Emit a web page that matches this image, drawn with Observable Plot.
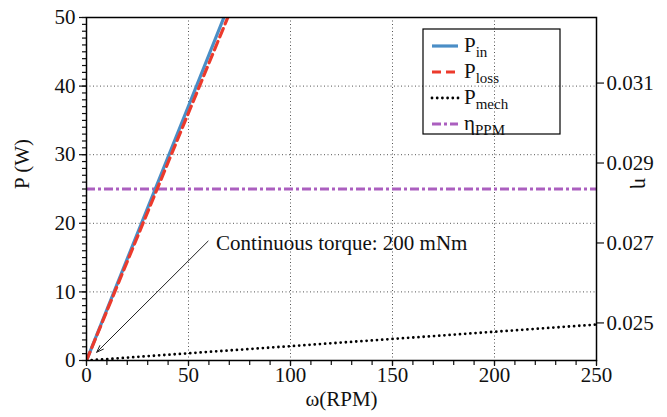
<!DOCTYPE html>
<html><head><meta charset="utf-8">
<script src="https://cdn.jsdelivr.net/npm/d3@7"></script>
<script src="https://cdn.jsdelivr.net/npm/@observablehq/plot@0.6"></script>
<style>
body{margin:0;background:#fff}
#chart{width:667px;height:417px}
#chart svg text, #chart svg tspan{font-family:"Liberation Serif","DejaVu Serif",serif !important;}
</style>
</head><body><div id="chart"></div>
<script>
// Data
const omega = [0, 50, 100, 150, 200, 250];            // RPM
const pIn   = [0, 37.1, 74.3, 111.4, 148.6, 185.7];   // W
const pLoss = [0, 36.1, 72.2, 108.3, 144.4, 180.5];   // W
const pMech = [0, 1.05, 2.09, 3.14, 4.19, 5.24];      // W
const etaPPM = 0.02835;                               // efficiency (right axis)
const xTicks = [0, 50, 100, 150, 200, 250];
const pTicks = [0, 10, 20, 30, 40, 50];
const etaTicks = [0.025, 0.027, 0.029, 0.031];
const etaDomain = [0.02406, 0.03264];
const pDomain = [0, 50];
const xDomain = [0, 250];
const annotation = [{text: "Continuous torque: 200 mNm", tx: 63.5, ty: 17.1, x1: 59.6, y1: 17.4, x2: 5, y2: 1.2}];
const legendBase = ["P", "P", "P", "η"];
const legendSub = ["in", "loss", "mech", "PPM"];

const blue = "#4a8ec6", red = "#ec3a2c", purple = "#ab5fbf";
const font = "Liberation Serif, DejaVu Serif, serif";
const fs = 21;
const txt = {fontFamily: font, fontSize: fs};

const toP = e => (e - etaDomain[0]) / (etaDomain[1] - etaDomain[0]) * (pDomain[1] - pDomain[0]);
const fromP = p => etaDomain[0] + p / (pDomain[1] - pDomain[0]) * (etaDomain[1] - etaDomain[0]);
const rows = omega.map((w, i) => ({w, pIn: pIn[i], pLoss: pLoss[i], pMech: pMech[i]}));

const chart = Plot.plot({
  width: 667, height: 417,
  marginLeft: 86, marginRight: 71, marginTop: 17, marginBottom: 57,
  style: {fontFamily: font, fontSize: fs + "px", color: "#111", background: "#fff"},
  x: {domain: xDomain},
  y: {domain: pDomain},
  marks: [
    Plot.gridX(xTicks.slice(1, -1), {stroke: "#555", strokeOpacity: 1, strokeWidth: 1, strokeDasharray: "1,2.5"}),
    Plot.gridY(pTicks.slice(1, -1), {stroke: "#555", strokeOpacity: 1, strokeWidth: 1, strokeDasharray: "1,2.5"}),
    Plot.axisX(d3.range(0, 251, 10), {tickSize: 5, tickFormat: () => "", label: null, strokeWidth: 1.2}),
    Plot.axisX(xTicks, {...txt, tickSize: 6, tickPadding: 1, label: null, tickFormat: d => String(d), strokeWidth: 1.2}),
    Plot.axisY(d3.range(0, 51, 1), {tickSize: 4, tickFormat: () => "", label: null, strokeWidth: 1.2}),
    Plot.axisY(pTicks, {...txt, tickSize: 7, tickPadding: 4, label: null, tickFormat: d => String(d), strokeWidth: 1.2}),
    Plot.axisY(etaTicks.map(toP), {...txt, anchor: "right", tickSize: 7, tickPadding: 3, label: null, tickFormat: d => fromP(d).toFixed(3), strokeWidth: 1.2}),
    Plot.ruleY([etaPPM], {y: toP, stroke: purple, strokeWidth: 3, strokeDasharray: "9,3,3,3"}),
    Plot.line(rows, {x: "w", y: "pMech", stroke: "#000", strokeWidth: 2.8, strokeDasharray: "0,5.2", strokeLinecap: "round", clip: true}),
    Plot.line(rows, {x: "w", y: "pIn", stroke: blue, strokeWidth: 3.2, clip: true}),
    Plot.line(rows, {x: "w", y: "pLoss", stroke: red, strokeWidth: 3.2, strokeDasharray: "9,5", clip: true}),
    Plot.arrow(annotation, {x1: "x1", y1: "y1", x2: "x2", y2: "y2", stroke: "#222", strokeWidth: 1, headLength: 11, headAngle: 40}),
    Plot.text(annotation, {...txt, x: "tx", y: "ty", text: "text", textAnchor: "start", fill: "#111"}),
    Plot.frame({stroke: "#000", strokeWidth: 1.5}),
    Plot.text(["P (W)"], {...txt, frameAnchor: "left", dx: -64, rotate: -90, fill: "#111"}),
    Plot.text(["η"], {...txt, frameAnchor: "right", dx: 45, rotate: 90, fill: "#111"}),
    Plot.text(["ω(RPM)"], {...txt, frameAnchor: "bottom", dy: 45, fill: "#111"})
  ]
});
document.getElementById("chart").appendChild(chart);

// Legend (inside the plot area, top right)
const svg = d3.select(chart);
const lg = svg.append("g").attr("font-family", font).attr("font-size", fs)
  .attr("fill", "#111").attr("text-anchor", "start");
lg.append("rect").attr("x", 423).attr("y", 29).attr("width", 137).attr("height", 105)
  .attr("fill", "none").attr("stroke", "#000").attr("stroke-width", 1.2);
const styles = [
  {stroke: blue, dash: null, w: 3.2, cap: "butt"},
  {stroke: red, dash: "9,5", w: 3.2, cap: "butt"},
  {stroke: "#000", dash: "0,5.2", w: 2.8, cap: "round"},
  {stroke: purple, dash: "9,3,3,3", w: 3, cap: "butt"}
];
legendBase.forEach((b, i) => {
  const y = 46 + i * 26;
  const s = styles[i];
  const ln = lg.append("line").attr("x1", 432).attr("x2", 458).attr("y1", y).attr("y2", y)
    .attr("stroke", s.stroke).attr("stroke-width", s.w).attr("stroke-linecap", s.cap);
  if (s.dash) ln.attr("stroke-dasharray", s.dash);
  const t = lg.append("text").attr("x", 464).attr("y", y + 6);
  t.append("tspan").text(b);
  t.append("tspan").attr("font-size", 15).attr("dy", 5).text(legendSub[i]);
});
</script>
</body></html>
